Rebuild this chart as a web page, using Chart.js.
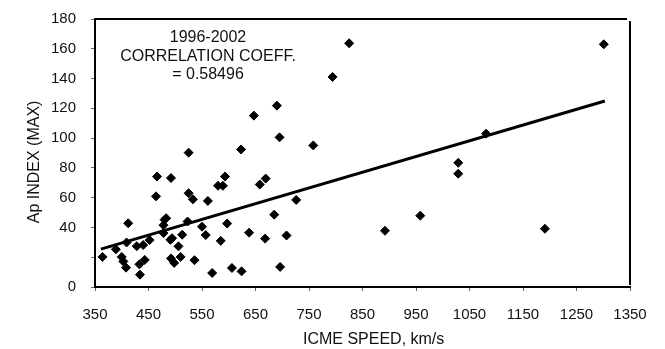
<!DOCTYPE html>
<html>
<head>
<meta charset="utf-8">
<script src="https://cdn.jsdelivr.net/npm/chart.js@4.4.1/dist/chart.umd.min.js"></script>
<style>
  html, body { margin: 0; padding: 0; background: #fff; }
  canvas { display: block; }
</style>
</head>
<body>
<canvas id="apChart" width="665" height="349"></canvas>
<script>
// ICME speed (km/s) vs max Ap index, 1996-2002
var speeds = [364, 389, 400, 403, 408, 412, 409, 428, 440, 433,
              434, 443, 452, 464, 466, 478, 480, 483, 478, 492,
              491, 494, 492, 498, 510, 506, 513, 525, 525, 533,
              523, 536, 550, 557, 561, 569, 580, 589, 593, 585,
              597, 606, 623, 624, 638, 658, 669, 668, 685, 695,
              696, 708, 726, 758, 647, 690, 794, 825, 892, 958,
              1029, 1029, 1081, 1191, 1301];
var apIndex = [20.2, 25.3, 20.2, 17.2, 13.0, 42.8, 29.9, 27.4, 28.2, 15.2,
               8.3, 18.2, 31.5, 60.9, 74.2, 41.5, 45.2, 46.2, 36.2, 73.2,
               31.7, 32.8, 19.2, 16.2, 20.2, 27.3, 35.1, 90.2, 63.0, 58.9,
               44.0, 18.0, 40.5, 34.9, 57.8, 9.4, 68.0, 68.0, 74.2, 31.0,
               42.6, 12.8, 92.4, 10.5, 36.5, 68.8, 72.8, 32.5, 48.6, 100.5,
               13.5, 34.6, 58.5, 95.1, 115.1, 121.8, 141.1, 163.7, 37.8, 47.9,
               83.4, 76.1, 103.0, 39.1, 163.0];

// linear fit drawn on the figure (end points)
var fitSpeeds = [361, 1303];
var fitAp = [25.4, 124.9];

var noteLines = ['1996-2002', 'CORRELATION COEFF.', '= 0.58496'];
var hiddenYTicks = [20];   // the original axis has no "20" label

var FONT = '"Liberation Sans", Arial, sans-serif';

var points = speeds.map(function (s, i) { return {x: s, y: apIndex[i]}; });
var fitLine = fitSpeeds.map(function (s, i) { return {x: s, y: fitAp[i]}; });

// top + right side of the box (small gap at the corner), and the text note
var framePlugin = {
  id: 'frame',
  afterDraw: function (chart) {
    var c = chart.ctx;
    var a = chart.chartArea;
    c.save();
    c.fillStyle = '#000';
    c.fillRect(a.left + 1, a.top - 1, a.right - a.left - 4, 2);
    c.fillRect(a.right - 1, a.top + 2, 2, a.bottom - a.top - 4);
    c.fillStyle = '#111';
    c.font = '16px ' + FONT;
    c.textAlign = 'center';
    c.textBaseline = 'middle';
    for (var i = 0; i < noteLines.length; i++) {
      c.fillText(noteLines[i], 208, 38 + i * 18.5);
    }
    c.restore();
  }
};

new Chart(document.getElementById('apChart'), {
  type: 'scatter',
  data: {
    datasets: [
      {
        data: points,
        backgroundColor: '#000',
        borderColor: '#000',
        borderWidth: 1,
        pointStyle: 'rectRot',
        pointRadius: 4.5
      },
      {
        data: fitLine,
        showLine: true,
        pointRadius: 0,
        borderColor: '#000',
        borderWidth: 3
      }
    ]
  },
  options: {
    responsive: false,
    animation: false,
    layout: { padding: { top: 19, right: 35, bottom: 0, left: 0 } },
    plugins: { legend: { display: false }, tooltip: { enabled: false } },
    scales: {
      x: {
        min: 350,
        max: 1350,
        afterFit: function (scale) { scale.height = 62; },
        border: { display: true, color: '#000', width: 2 },
        grid: { drawOnChartArea: false, tickLength: 4, color: '#666' },
        ticks: {
          stepSize: 100,
          padding: 15,
          color: '#111',
          font: { family: FONT, size: 15 },
          callback: function (v) { return String(v); }
        },
        title: {
          display: true,
          text: '     ICME SPEED, km/s',
          color: '#111',
          font: { family: FONT, size: 16 },
          padding: 0
        }
      },
      y: {
        min: 0,
        max: 180,
        afterFit: function (scale) { scale.width = 95; scale.paddingTop = 0; scale.paddingBottom = 0; },
        border: { display: true, color: '#000', width: 2 },
        grid: { drawOnChartArea: false, tickLength: 4, color: '#666' },
        ticks: {
          stepSize: 20,
          padding: 15,
          color: '#111',
          font: { family: FONT, size: 15 },
          callback: function (v) { return hiddenYTicks.indexOf(v) >= 0 ? '' : String(v); }
        },
        title: {
          display: true,
          text: 'Ap INDEX (MAX)    ',
          color: '#111',
          font: { family: FONT, size: 16 },
          padding: { top: 25, bottom: 0 }
        }
      }
    }
  },
  plugins: [framePlugin]
});
</script>
</body>
</html>
